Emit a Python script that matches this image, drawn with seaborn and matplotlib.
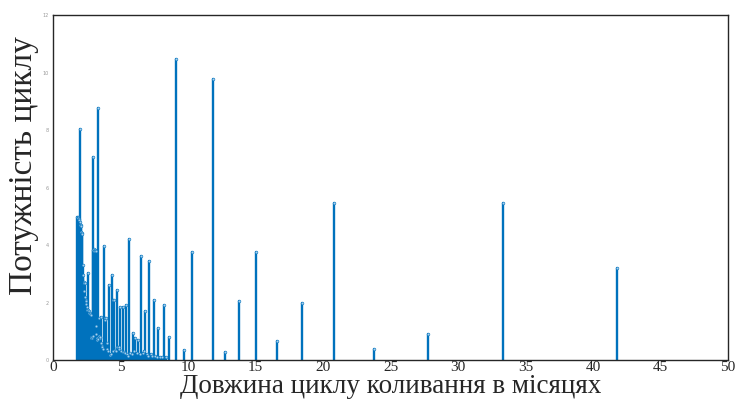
import matplotlib
matplotlib.use("Agg")
import matplotlib.pyplot as plt
import seaborn as sns
import pandas as pd

# ---- data: cycle length (months) and power ----
period = [
    1.79, 1.82, 1.85, 1.88, 1.91, 1.94, 1.97, 1.99, 2.02, 2.05, 2.08, 2.11, 2.14, 2.17,
    2.20, 2.23, 2.26, 2.29, 2.32, 2.35, 2.38, 2.41, 2.44, 2.47, 2.50, 2.53, 2.56, 2.60,
    2.63, 2.66, 2.69, 2.72, 2.75, 2.78, 2.81, 2.84, 2.87, 2.90, 2.93, 2.96, 3.00, 3.03,
    3.06, 3.09, 3.12, 3.15, 3.18, 3.21, 3.24, 3.27, 3.30, 3.35, 3.39, 3.42, 3.45, 3.48,
    3.51, 3.55, 3.58, 3.61, 3.64, 3.67, 3.75, 3.82, 3.87, 3.92, 3.97, 4.02, 4.07, 4.14,
    4.19, 4.24, 4.29, 4.37, 4.43, 4.48, 4.53, 4.58, 4.64, 4.71, 4.77, 4.82, 4.86, 4.91,
    5.00, 5.07, 5.15, 5.22, 5.28, 5.34, 5.42, 5.50, 5.58, 5.66, 5.74, 5.82, 5.90, 6.00,
    6.10, 6.20, 6.30, 6.41, 6.52, 6.63, 6.74, 6.84, 6.95, 7.05, 7.13, 7.25, 7.35, 7.45,
    7.58, 7.70, 7.79, 7.95, 8.10, 8.24, 8.40, 8.60, 9.14, 9.68, 10.27, 11.82, 12.77,
    13.77, 15.05, 16.57, 18.43, 20.83, 23.80, 27.77, 33.36, 41.74,
]
power = [
    4.98, 4.96, 4.95, 4.93, 4.90, 4.88, 4.80, 8.02, 4.70, 4.68, 4.66, 4.45, 4.41, 4.38,
    3.30, 2.95, 2.70, 2.40, 2.67, 2.20, 2.69, 2.10, 2.05, 1.95, 1.85, 1.75, 1.74, 3.01,
    1.70, 1.65, 1.62, 1.62, 1.60, 1.55, 0.80, 0.78, 0.77, 0.80, 0.85, 7.07, 3.83, 3.85,
    3.80, 3.83, 3.80, 3.78, 1.20, 0.90, 0.75, 0.70, 0.72, 8.75, 1.45, 0.85, 0.81, 0.75,
    0.80, 1.50, 0.60, 0.50, 0.45, 0.40, 3.97, 1.46, 1.40, 1.46, 0.60, 0.40, 0.30, 2.61,
    0.17, 0.17, 0.20, 2.96, 2.10, 0.30, 2.10, 0.35, 0.30, 2.43, 0.46, 0.46, 0.40, 0.46,
    1.86, 0.30, 1.83, 0.29, 0.29, 0.25, 1.91, 0.20, 0.15, 4.20, 0.25, 0.20, 0.93, 0.30,
    0.76, 0.25, 0.70, 0.20, 3.62, 0.25, 0.30, 1.72, 0.20, 0.15, 3.44, 0.20, 0.15, 2.09,
    0.15, 0.10, 1.10, 0.10, 0.10, 1.91, 0.10, 0.80, 10.47, 0.35, 3.77, 9.76, 0.28,
    2.06, 3.77, 0.65, 1.99, 5.46, 0.37, 0.89, 5.45, 3.19,
]
x_ticks = [0, 5, 10, 15, 20, 25, 30, 35, 40, 45, 50]
y_ticks = [0, 2, 4, 6, 8, 10, 12]
x_label = "Довжина циклу коливання в місяцях"
y_label = "Потужність циклу"

# ---- build long-format table: each stem is a unit going from 0 to its power ----
rows = []
for i, (p, v) in enumerate(zip(period, power)):
    rows.append({"period": p, "power": 0.0, "stem": i})
    rows.append({"period": p, "power": v, "stem": i})
stems = pd.DataFrame(rows)
tops = pd.DataFrame({"period": period, "power": power})

sns.set_style("white")
plt.rcParams["font.family"] = ["Liberation Serif", "DejaVu Serif"]

fig = plt.figure(figsize=(7.37, 3.99), dpi=100)
ax = fig.add_axes([0.0719, 0.0977, 0.916, 0.8647])

blue = "#0072BD"
sns.lineplot(data=stems, x="period", y="power", units="stem", estimator=None,
             color=blue, linewidth=1.7, ax=ax, legend=False, sort=False)
sns.scatterplot(data=tops, x="period", y="power", marker="o", s=4,
                facecolor="#a9d0ee", edgecolor=blue, linewidth=0.4,
                ax=ax, legend=False, zorder=3)

ax.set_xlim(0, 50)
ax.set_ylim(0, 12)
ax.set_xticks(x_ticks)
ax.set_xticklabels([str(t) for t in x_ticks], fontsize=11)
ax.set_yticks(y_ticks)
ax.set_yticklabels([str(t) for t in y_ticks], fontsize=3.5, color="#999999",
                   family="DejaVu Sans")
ax.tick_params(axis="both", direction="in", length=3, width=0.8, color="#262626",
               pad=3)
ax.tick_params(axis="x", pad=1)

for s in ax.spines.values():
    s.set_visible(True)
    s.set_color("#262626")
    s.set_linewidth(1.0)

ax.set_xlabel(x_label, fontsize=19.5, labelpad=-0.5)
ax.set_ylabel(y_label, fontsize=24)
ax.yaxis.set_label_coords(-0.021, 0.565)

fig.savefig("out.png", dpi=100)
